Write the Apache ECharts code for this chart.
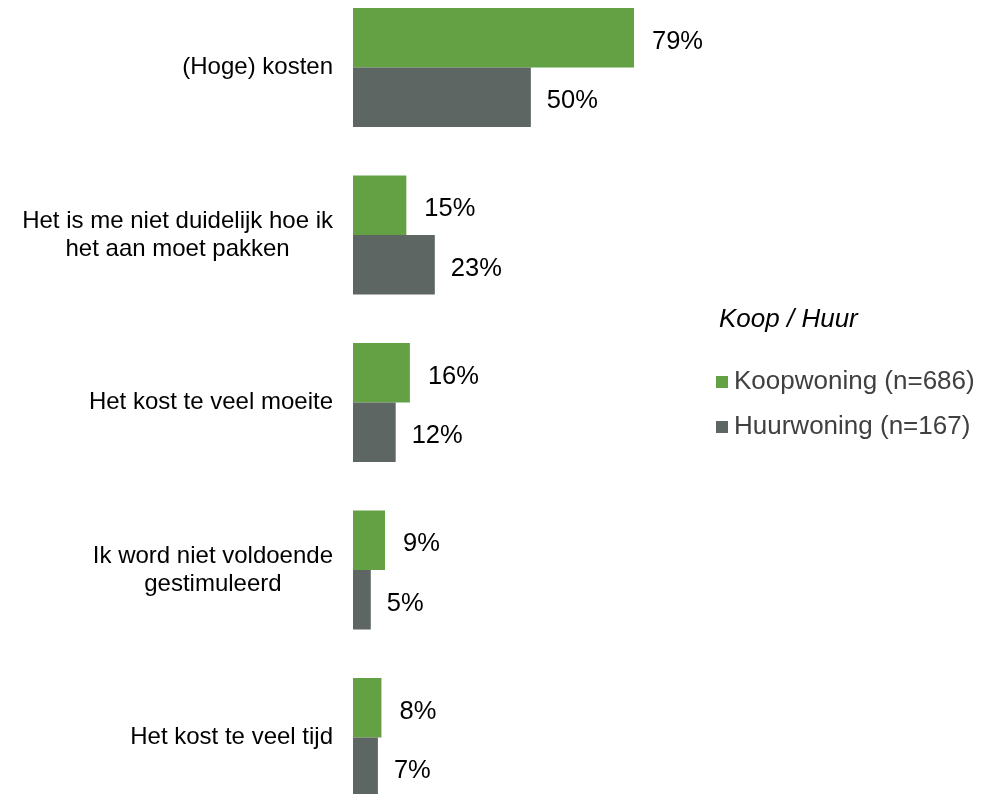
<!DOCTYPE html>
<html>
<head>
<meta charset="utf-8">
<script src="https://cdn.jsdelivr.net/npm/echarts@6/dist/echarts.min.js"></script>
<style>html,body{margin:0;padding:0;background:#fff}#c{width:989px;height:794px}</style>
</head>
<body>
<div id="c"></div>
<script>
const categories = [
  "(Hoge) kosten",
  "Het is me niet duidelijk hoe ik\nhet aan moet pakken",
  "Het kost te veel moeite",
  "Ik word niet voldoende\ngestimuleerd",
  "Het kost te veel tijd"
];
const koopLabel = "Koopwoning (n=686)";
const huurLabel = "Huurwoning (n=167)";
const koopValues = [79, 15, 16, 9, 8];
const huurValues = [50, 23, 12, 5, 7];
const legendTitle = "Koop / Huur";

const chart = echarts.init(document.getElementById('c'), null, {renderer: 'canvas'});
const font = "'Liberation Sans', Arial, sans-serif";
chart.setOption({
  animation: false,
  textStyle: {fontFamily: font},
  title: {
    text: legendTitle, left: 719, top: 307, padding: 0,
    textStyle: {fontFamily: font, fontStyle: 'italic', fontWeight: 'normal', fontSize: 26, color: '#000'}
  },
  legend: {
    orient: 'vertical', left: 716, top: 369, padding: 0,
    itemWidth: 12, itemHeight: 12, itemGap: 19,
    icon: 'rect',
    textStyle: {fontFamily: font, fontSize: 26, color: '#404040', padding: [0,0,0,1]},
    data: [koopLabel, huurLabel]
  },
  grid: {left: 353, top: -16.25, width: 355.7, height: 837.5, containLabel: false, outerBoundsMode: 'none'},
  xAxis: {type: 'value', min: 0, max: 100, show: false},
  yAxis: {
    type: 'category', data: categories, inverse: true,
    axisLine: {show: false}, axisTick: {show: false},
    axisLabel: {
      margin: 20, color: '#000', fontSize: 24, fontFamily: font,
      formatter: v => v.split('\n').map(s => '{c|' + s + '}').join('\n'),
      rich: {c: {align: 'center', fontSize: 24, lineHeight: 28, color: '#000', fontFamily: font}}
    }
  },
  series: [
    {
      name: koopLabel, type: 'bar', data: koopValues, barGap: '0%', barCategoryGap: '29%',
      itemStyle: {color: '#63a144'},
      label: {show: true, position: 'right', distance: 18, offset: [0, 4], formatter: '{c}%', color: '#000', fontSize: 25.5, fontFamily: font}
    },
    {
      name: huurLabel, type: 'bar', data: huurValues, barGap: '0%', barCategoryGap: '29%',
      itemStyle: {color: '#5d6663'},
      label: {show: true, position: 'right', distance: 16, offset: [0, 4], formatter: '{c}%', color: '#000', fontSize: 25.5, fontFamily: font}
    }
  ]
});
</script>
</body>
</html>
